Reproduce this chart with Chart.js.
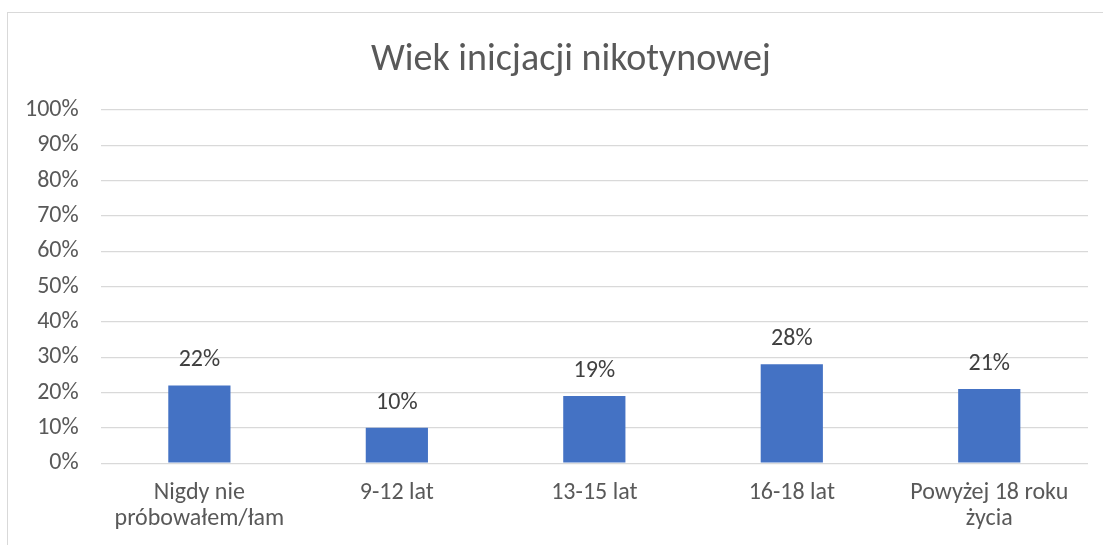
<!DOCTYPE html>
<html><head><meta charset="utf-8">
<script src="https://cdn.jsdelivr.net/npm/chart.js@4.4.1/dist/chart.umd.min.js"></script>
<style>
html,body{margin:0;padding:0;background:#fff;overflow:hidden;width:1103px;height:545px;position:relative}
#frame{position:absolute;left:7px;top:12px;width:1200px;height:700px;border:1px solid #d9d9d9;box-sizing:border-box}
#wrap{position:absolute;left:0;top:0;width:1142px;height:549px}
</style></head><body>
<div id="frame"></div>
<div id="wrap"><canvas id="c"></canvas></div>
<script>
const chartTitle = "Wiek inicjacji nikotynowej";
const categories = [["Nigdy nie", "próbowałem/łam"], "9-12 lat", "13-15 lat", "16-18 lat", ["Powyżej 18 roku", "życia"]];
const values = [22, 10, 19, 28, 21];
const yMin = 0, yMax = 100, yStep = 10;

const FONT = "Carlito, Lato, 'Open Sans', sans-serif";

const valueLabels = {
  id: 'valueLabels',
  afterDatasetsDraw(chart) {
    const ctx = chart.ctx;
    ctx.save();
    ctx.font = "24px " + FONT;
    ctx.fillStyle = "#404040";
    ctx.textAlign = "center";
    ctx.textBaseline = "middle";
    chart.getDatasetMeta(0).data.forEach((el, i) => {
      ctx.fillText(values[i] + "%", el.x, el.y - 25);
    });
    ctx.restore();
  }
};

// Chart title, centred on the (wider, cropped) chart frame rather than the padded box
const frameTitle = {
  id: 'frameTitle',
  afterDraw(chart) {
    const ctx = chart.ctx;
    ctx.save();
    ctx.font = "38px " + FONT;
    ctx.fillStyle = "#595959";
    ctx.textAlign = "center";
    ctx.textBaseline = "middle";
    ctx.fillText(chartTitle, chart.width / 2, 60);
    ctx.restore();
  }
};

new Chart(document.getElementById('c'), {
  type: 'bar',
  data: {
    labels: categories,
    datasets: [{
      data: values,
      backgroundColor: '#4472c4',
      borderWidth: 0,
      categoryPercentage: 1,
      barPercentage: 0.315
    }]
  },
  options: {
    responsive: true,
    maintainAspectRatio: false,
    animation: false,
    layout: { padding: { left: 3, right: 54, top: 110, bottom: 0 } },
    plugins: {
      legend: { display: false },
      tooltip: { enabled: false },
      title: { display: false }
    },
    scales: {
      x: {
        grid: { display: false, drawTicks: false },
        border: { display: false },
        ticks: { color: '#595959', font: { family: FONT, size: 24, lineHeight: 1.08 }, padding: 17, maxRotation: 0, autoSkip: false }
      },
      y: {
        min: yMin, max: yMax,
        grid: { color: '#d9d9d9', lineWidth: 1.3, drawTicks: false },
        border: { display: false },
        ticks: { stepSize: yStep, color: '#595959', font: { family: FONT, size: 24 }, padding: 22, callback: v => v + '%' }
      }
    }
  },
  plugins: [valueLabels, frameTitle]
});
</script>
</body></html>
